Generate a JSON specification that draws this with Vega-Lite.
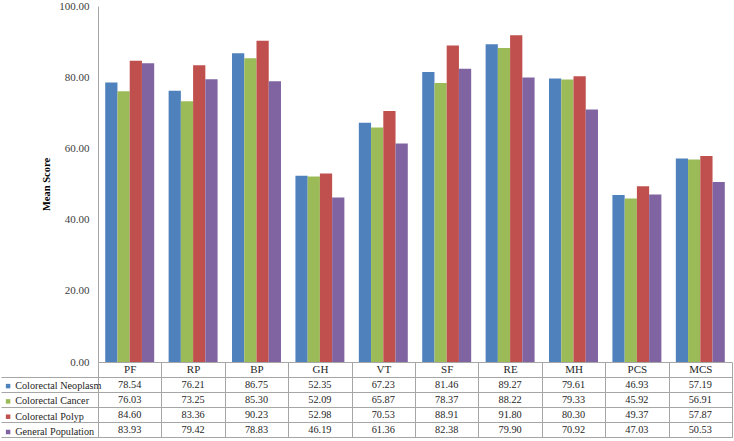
{
  "$schema": "https://vega.github.io/schema/vega-lite/v6.json",
  "padding": {"left": 0, "top": 0, "right": 3, "bottom": 3},
  "bounds": "flush",
  "spacing": 15,
  "config": {
    "font": "Liberation Serif",
    "view": {"stroke": null},
    "axis": {"labelFont": "Liberation Serif", "titleFont": "Liberation Serif"},
    "legend": {"labelFont": "Liberation Serif"},
    "text": {"font": "Liberation Serif"}
  },
  "datasets": {
    "scores": [
      {"domain": "PF", "group": "Colorectal Neoplasm", "score": 78.54},
      {"domain": "RP", "group": "Colorectal Neoplasm", "score": 76.21},
      {"domain": "BP", "group": "Colorectal Neoplasm", "score": 86.75},
      {"domain": "GH", "group": "Colorectal Neoplasm", "score": 52.35},
      {"domain": "VT", "group": "Colorectal Neoplasm", "score": 67.23},
      {"domain": "SF", "group": "Colorectal Neoplasm", "score": 81.46},
      {"domain": "RE", "group": "Colorectal Neoplasm", "score": 89.27},
      {"domain": "MH", "group": "Colorectal Neoplasm", "score": 79.61},
      {"domain": "PCS", "group": "Colorectal Neoplasm", "score": 46.93},
      {"domain": "MCS", "group": "Colorectal Neoplasm", "score": 57.19},
      {"domain": "PF", "group": "Colorectal Cancer", "score": 76.03},
      {"domain": "RP", "group": "Colorectal Cancer", "score": 73.25},
      {"domain": "BP", "group": "Colorectal Cancer", "score": 85.30},
      {"domain": "GH", "group": "Colorectal Cancer", "score": 52.09},
      {"domain": "VT", "group": "Colorectal Cancer", "score": 65.87},
      {"domain": "SF", "group": "Colorectal Cancer", "score": 78.37},
      {"domain": "RE", "group": "Colorectal Cancer", "score": 88.22},
      {"domain": "MH", "group": "Colorectal Cancer", "score": 79.33},
      {"domain": "PCS", "group": "Colorectal Cancer", "score": 45.92},
      {"domain": "MCS", "group": "Colorectal Cancer", "score": 56.91},
      {"domain": "PF", "group": "Colorectal Polyp", "score": 84.60},
      {"domain": "RP", "group": "Colorectal Polyp", "score": 83.36},
      {"domain": "BP", "group": "Colorectal Polyp", "score": 90.23},
      {"domain": "GH", "group": "Colorectal Polyp", "score": 52.98},
      {"domain": "VT", "group": "Colorectal Polyp", "score": 70.53},
      {"domain": "SF", "group": "Colorectal Polyp", "score": 88.91},
      {"domain": "RE", "group": "Colorectal Polyp", "score": 91.80},
      {"domain": "MH", "group": "Colorectal Polyp", "score": 80.30},
      {"domain": "PCS", "group": "Colorectal Polyp", "score": 49.37},
      {"domain": "MCS", "group": "Colorectal Polyp", "score": 57.87},
      {"domain": "PF", "group": "General Population", "score": 83.93},
      {"domain": "RP", "group": "General Population", "score": 79.42},
      {"domain": "BP", "group": "General Population", "score": 78.83},
      {"domain": "GH", "group": "General Population", "score": 46.19},
      {"domain": "VT", "group": "General Population", "score": 61.36},
      {"domain": "SF", "group": "General Population", "score": 82.38},
      {"domain": "RE", "group": "General Population", "score": 79.90},
      {"domain": "MH", "group": "General Population", "score": 70.92},
      {"domain": "PCS", "group": "General Population", "score": 47.03},
      {"domain": "MCS", "group": "General Population", "score": 50.53}
    ]
  },
  "data": {"name": "scores"},
  "vconcat": [
    {
      "width": 634,
      "height": 356,
      "mark": {"type": "bar"},
      "encoding": {
        "x": {
          "field": "domain", "type": "nominal",
          "sort": ["PF", "RP", "BP", "GH", "VT", "SF", "RE", "MH", "PCS", "MCS"],
          "scale": {"paddingInner": 0, "paddingOuter": 0},
          "axis": {
            "title": null, "labelAngle": 0, "tickBand": "extent", "tickSize": 15,
            "tickColor": "#a6a6a6", "domainColor": "#a6a6a6",
            "labelBaseline": "middle", "labelPadding": -7.5,
            "labelFontSize": 11, "labelColor": "#262626"
          }
        },
        "xOffset": {
          "field": "group", "type": "nominal",
          "sort": ["Colorectal Neoplasm", "Colorectal Cancer", "Colorectal Polyp", "General Population"],
          "scale": {"paddingInner": 0, "paddingOuter": 0.59}
        },
        "y": {
          "field": "score", "type": "quantitative",
          "scale": {"domain": [0, 100]},
          "axis": {
            "values": [0, 20, 40, 60, 80, 100], "format": ".2f", "grid": false, "ticks": false,
            "labelPadding": 9, "labelFontSize": 11, "labelColor": "#404040",
            "domainColor": "#a6a6a6",
            "title": "Mean Score", "titleFontWeight": "bold", "titleFontSize": 10.5,
            "titleColor": "#000000", "titlePadding": 7
          }
        },
        "color": {
          "field": "group", "type": "nominal",
          "sort": ["Colorectal Neoplasm", "Colorectal Cancer", "Colorectal Polyp", "General Population"],
          "scale": {"range": ["#4f81bd", "#9bbb59", "#c0504d", "#8064a2"]},
          "legend": {
            "orient": "none", "legendX": -95, "legendY": 375,
            "title": null, "symbolType": "square", "symbolSize": 20,
            "symbolStrokeWidth": 0, "labelFont": "Liberation Serif",
            "labelFontSize": 10.2, "labelColor": "#262626",
            "labelOffset": 2, "rowPadding": 4.3, "padding": 0
          }
        }
      }
    },
    {
      "width": 634,
      "height": 60,
      "view": {"stroke": "#a6a6a6"},
      "mark": {"type": "text", "font": "Liberation Serif", "fontSize": 10.3, "color": "#262626"},
      "encoding": {
        "x": {
          "field": "domain", "type": "nominal",
          "sort": ["PF", "RP", "BP", "GH", "VT", "SF", "RE", "MH", "PCS", "MCS"],
          "scale": {"paddingInner": 0, "paddingOuter": 0},
          "axis": {
            "title": null, "labels": false, "ticks": false, "domain": false,
            "grid": true, "gridColor": "#a6a6a6", "tickBand": "extent"
          }
        },
        "y": {
          "field": "group", "type": "nominal",
          "sort": ["Colorectal Neoplasm", "Colorectal Cancer", "Colorectal Polyp", "General Population"],
          "scale": {"paddingInner": 0, "paddingOuter": 0},
          "axis": {
            "title": null, "labels": false, "domain": false,
            "ticks": true, "tickSize": 97, "tickColor": "#a6a6a6",
            "grid": true, "gridColor": "#a6a6a6", "tickBand": "extent"
          }
        },
        "text": {"field": "score", "type": "quantitative", "format": ".2f"}
      }
    }
  ]
}
